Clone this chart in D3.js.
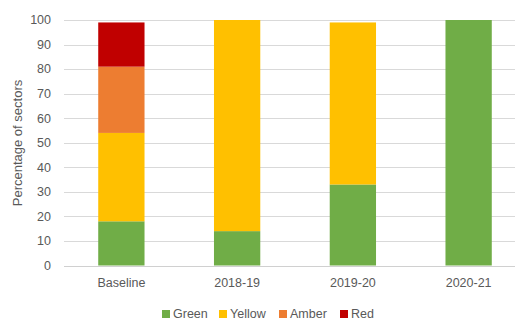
<!DOCTYPE html>
<html><head><meta charset="utf-8">
<script src="https://cdn.jsdelivr.net/npm/d3@7"></script>
<style>body{margin:0;background:#fff}svg{display:block}text{font-family:"Liberation Sans",Arial,sans-serif;fill:#595959}</style>
</head><body><svg id="c" width="515" height="324"></svg>
<script>
const categories = ["Baseline","2018-19","2019-20","2020-21"];
const seriesNames = ["Green","Yellow","Amber","Red"];
const green  = [18, 14, 33, 100];
const yellow = [36, 86, 66, 0];
const amber  = [27, 0, 0, 0];
const red    = [18, 0, 0, 0];
const colors = ["#70ad47","#ffc000","#ed7d31","#c00000"];
const yTicks = [0,10,20,30,40,50,60,70,80,90,100];

const svg = d3.select("#c");
const rows = categories.map((c,i)=>({cat:c, Green:green[i], Yellow:yellow[i], Amber:amber[i], Red:red[i]}));
const stack = d3.stack().keys(seriesNames)(rows);

const x = d3.scaleBand().domain(categories).range([63.5, 526.5]).paddingInner(0.6).paddingOuter(0.3);
const y = d3.scaleLinear().domain([0,100]).range([265.5, 20]);

// gridlines
svg.append("g").selectAll("line").data(yTicks).join("line")
  .attr("x1",64).attr("x2",527)
  .attr("y1",d=>Math.round(y(d))+0.5).attr("y2",d=>Math.round(y(d))+0.5)
  .attr("stroke",d=>d===0?"#d0d0d0":"#d9d9d9").attr("stroke-width",1);

// y tick labels
svg.append("g").selectAll("text").data(yTicks).join("text")
  .attr("x",51).attr("y",d=>y(d)).attr("dy","0.35em")
  .attr("text-anchor","end").attr("font-size","12.5px").text(d=>d);

// bars
svg.append("g").selectAll("g").data(stack).join("g")
  .attr("fill",(d,i)=>colors[i])
  .selectAll("rect").data(d=>d.filter(s=>s[1]-s[0]>0)).join("rect")
  .attr("x",d=>x(d.data.cat)).attr("width",x.bandwidth())
  .attr("y",d=>y(d[1])).attr("height",d=>y(d[0])-y(d[1]));

// x labels
svg.append("g").selectAll("text").data(categories).join("text")
  .attr("x",d=>x(d)+x.bandwidth()/2).attr("y",283).attr("dy","0.35em")
  .attr("text-anchor","middle").attr("font-size","12.5px").text(d=>d);

// y axis title
svg.append("text").attr("transform","translate(17,143) rotate(-90)")
  .attr("text-anchor","middle").attr("dy","0.35em").attr("font-size","13px").text("Percentage of sectors");

// legend
const legX = [162, 219, 279, 340];
const leg = svg.append("g").selectAll("g").data(seriesNames).join("g")
  .attr("transform",(d,i)=>`translate(${legX[i]},314)`);
leg.append("rect").attr("x",0).attr("y",-4).attr("width",8).attr("height",8).attr("fill",(d,i)=>colors[i]);
leg.append("text").attr("x",11).attr("dy","0.35em").attr("font-size","12.5px").text(d=>d);
</script></body></html>
